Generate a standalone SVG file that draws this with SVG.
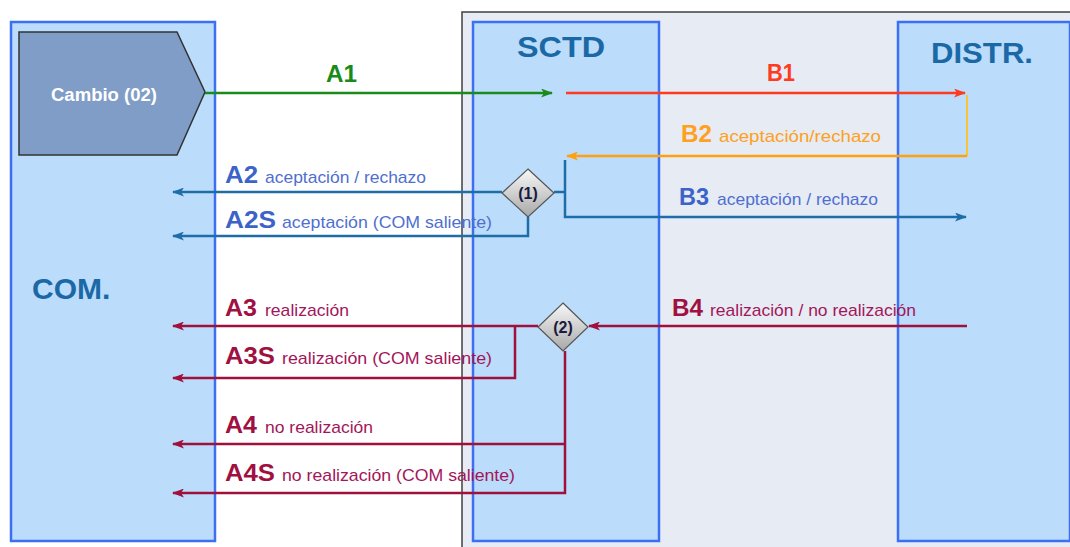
<svg xmlns="http://www.w3.org/2000/svg" width="1070" height="547" viewBox="0 0 1070 547">
<defs>
<style>
.col{fill:#bbdcfb;stroke:#3d6ff5;stroke-width:2.5}
.title{font-family:"Liberation Sans",Arial,sans-serif;font-weight:bold;font-size:30px;fill:#1a69a6}
.lb{font-family:"Liberation Sans",Arial,sans-serif;font-weight:bold;font-size:23px}
.ls{font-family:"Liberation Sans",Arial,sans-serif;font-size:17px}
.ln{fill:none;stroke-width:2.5}
.blue{stroke:#1f6da8}
.mar{stroke:#a0103c}
.dia{fill:url(#dg);stroke:#555;stroke-width:1.2}
.dt{font-family:"Liberation Sans",Arial,sans-serif;font-weight:bold;font-size:16px;fill:#1a1a40;text-anchor:middle}
</style>
<linearGradient id="dg" x1="0" y1="0" x2="0" y2="1">
<stop offset="0" stop-color="#f8f8f8"/>
<stop offset="1" stop-color="#a8a8a8"/>
</linearGradient>
<marker id="mg" viewBox="0 0 12 9" refX="11" refY="4.5" markerWidth="12" markerHeight="9" markerUnits="userSpaceOnUse" orient="auto"><path d="M0,0 L12,4.5 L0,9 L3,4.5 z" fill="#1a8a1a"/></marker>
<marker id="mr" viewBox="0 0 12 9" refX="11" refY="4.5" markerWidth="12" markerHeight="9" markerUnits="userSpaceOnUse" orient="auto"><path d="M0,0 L12,4.5 L0,9 L3,4.5 z" fill="#ff3b1f"/></marker>
<marker id="mo" viewBox="0 0 12 9" refX="11" refY="4.5" markerWidth="12" markerHeight="9" markerUnits="userSpaceOnUse" orient="auto"><path d="M0,0 L12,4.5 L0,9 L3,4.5 z" fill="#ffa010"/></marker>
<marker id="mb" viewBox="0 0 12 9" refX="11" refY="4.5" markerWidth="12" markerHeight="9" markerUnits="userSpaceOnUse" orient="auto"><path d="M0,0 L12,4.5 L0,9 L3,4.5 z" fill="#1f6da8"/></marker>
<marker id="mm" viewBox="0 0 12 9" refX="11" refY="4.5" markerWidth="12" markerHeight="9" markerUnits="userSpaceOnUse" orient="auto"><path d="M0,0 L12,4.5 L0,9 L3,4.5 z" fill="#a0103c"/></marker>
</defs>
<rect x="0" y="0" width="1070" height="547" fill="#ffffff"/>
<rect x="462" y="12" width="620" height="550" fill="#e6ebf4" stroke="#404040" stroke-width="1.5"/>

<g id="com">
<rect class="col" x="11" y="22" width="204" height="519"/>
<text class="title" x="32" y="299">COM.</text>
</g>
<g id="sctd">
<rect class="col" x="473" y="22" width="186" height="519"/>
<text class="title" x="517" y="57" textLength="88" lengthAdjust="spacingAndGlyphs">SCTD</text>
</g>
<g id="distr">
<rect class="col" x="898" y="22" width="172" height="519"/>
<text class="title" x="931" y="63" textLength="102" lengthAdjust="spacingAndGlyphs">DISTR.</text>
</g>
<g id="cambio">
<path d="M19,32 H177 L205,92 L177,155 H19 Z" fill="#7f9dc7" stroke="#333" stroke-width="1.5"/>
<text x="104" y="101" text-anchor="middle" font-family="Liberation Sans, Arial, sans-serif" font-weight="bold" font-size="18" fill="#ffffff" textLength="106" lengthAdjust="spacingAndGlyphs">Cambio (02)</text>
</g>
<g id="d1">
<path class="dia" d="M528,169 L554,193 L528,217 L502,193 Z"/>
<text class="dt" x="528" y="199">(1)</text>
</g>
<g id="d2">
<path class="dia" d="M563,303 L588,327 L563,351 L538,327 Z"/>
<text class="dt" x="563" y="333">(2)</text>
</g>

<g id="connectors">
<path class="ln" stroke="#1a8a1a" d="M205,93 H552" marker-end="url(#mg)"/>
<path class="ln" stroke="#ff3b1f" d="M566,93 H965" marker-end="url(#mr)"/>
<path fill="none" stroke="#ffc020" stroke-width="1.8" d="M967,95 V156"/>
<path class="ln" stroke="#ffa010" d="M967,156 H567" marker-end="url(#mo)"/>
<path class="ln blue" d="M554,192 H565"/>
<path class="ln blue" d="M565,160 V217 H966" marker-end="url(#mb)"/>
<path class="ln blue" d="M502,192 H173" marker-end="url(#mb)"/>
<path class="ln blue" d="M528,217 V236 H173" marker-end="url(#mb)"/>
<path class="ln mar" d="M967,326 H589" marker-end="url(#mm)"/>
<path class="ln mar" d="M538,326 H173" marker-end="url(#mm)"/>
<path class="ln mar" d="M515,326 V378 H173" marker-end="url(#mm)"/>
<path class="ln mar" d="M565,351 V493 H173" marker-end="url(#mm)"/>
<path class="ln mar" d="M565,444 H173" marker-end="url(#mm)"/>
</g>

<g id="labels">
<text class="lb" x="326" y="82" fill="#1a8a1a" textLength="31" lengthAdjust="spacingAndGlyphs">A1</text>
<text class="lb" x="767" y="81" fill="#ff3b1f" textLength="28" lengthAdjust="spacingAndGlyphs">B1</text>
<text class="lb" x="681" y="142" fill="#ffa020" textLength="31" lengthAdjust="spacingAndGlyphs">B2</text>
<text class="ls" x="719" y="142" fill="#ffa020" textLength="162" lengthAdjust="spacingAndGlyphs">aceptación/rechazo</text>
<text class="lb" x="679" y="205" fill="#3c64c8" textLength="30" lengthAdjust="spacingAndGlyphs">B3</text>
<text class="ls" x="717" y="205" fill="#4f6fd0" textLength="161" lengthAdjust="spacingAndGlyphs">aceptación / rechazo</text>
<text class="lb" x="225" y="183" fill="#3c64c8" textLength="33" lengthAdjust="spacingAndGlyphs">A2</text>
<text class="ls" x="265" y="183" fill="#4f6fd0" textLength="161" lengthAdjust="spacingAndGlyphs">aceptación / rechazo</text>
<text class="lb" x="225" y="228" fill="#3c64c8" textLength="51" lengthAdjust="spacingAndGlyphs">A2S</text>
<text class="ls" x="282" y="228" fill="#4f6fd0" textLength="210" lengthAdjust="spacingAndGlyphs">aceptación (COM saliente)</text>
<text class="lb" x="672" y="316" fill="#a01040" textLength="31" lengthAdjust="spacingAndGlyphs">B4</text>
<text class="ls" x="710" y="316" fill="#a3165a" textLength="206" lengthAdjust="spacingAndGlyphs">realización / no realización</text>
<text class="lb" x="225" y="316" fill="#a01040" textLength="32" lengthAdjust="spacingAndGlyphs">A3</text>
<text class="ls" x="265" y="316" fill="#a3165a" textLength="84" lengthAdjust="spacingAndGlyphs">realización</text>
<text class="lb" x="225" y="364" fill="#a01040" textLength="50" lengthAdjust="spacingAndGlyphs">A3S</text>
<text class="ls" x="282" y="364" fill="#a3165a" textLength="210" lengthAdjust="spacingAndGlyphs">realización (COM  saliente)</text>
<text class="lb" x="225" y="433" fill="#a01040" textLength="32" lengthAdjust="spacingAndGlyphs">A4</text>
<text class="ls" x="265" y="433" fill="#a3165a" textLength="108" lengthAdjust="spacingAndGlyphs">no realización</text>
<text class="lb" x="225" y="481" fill="#a01040" textLength="50" lengthAdjust="spacingAndGlyphs">A4S</text>
<text class="ls" x="282" y="481" fill="#a3165a" textLength="233" lengthAdjust="spacingAndGlyphs">no realización (COM saliente)</text>
</g>
</svg>
